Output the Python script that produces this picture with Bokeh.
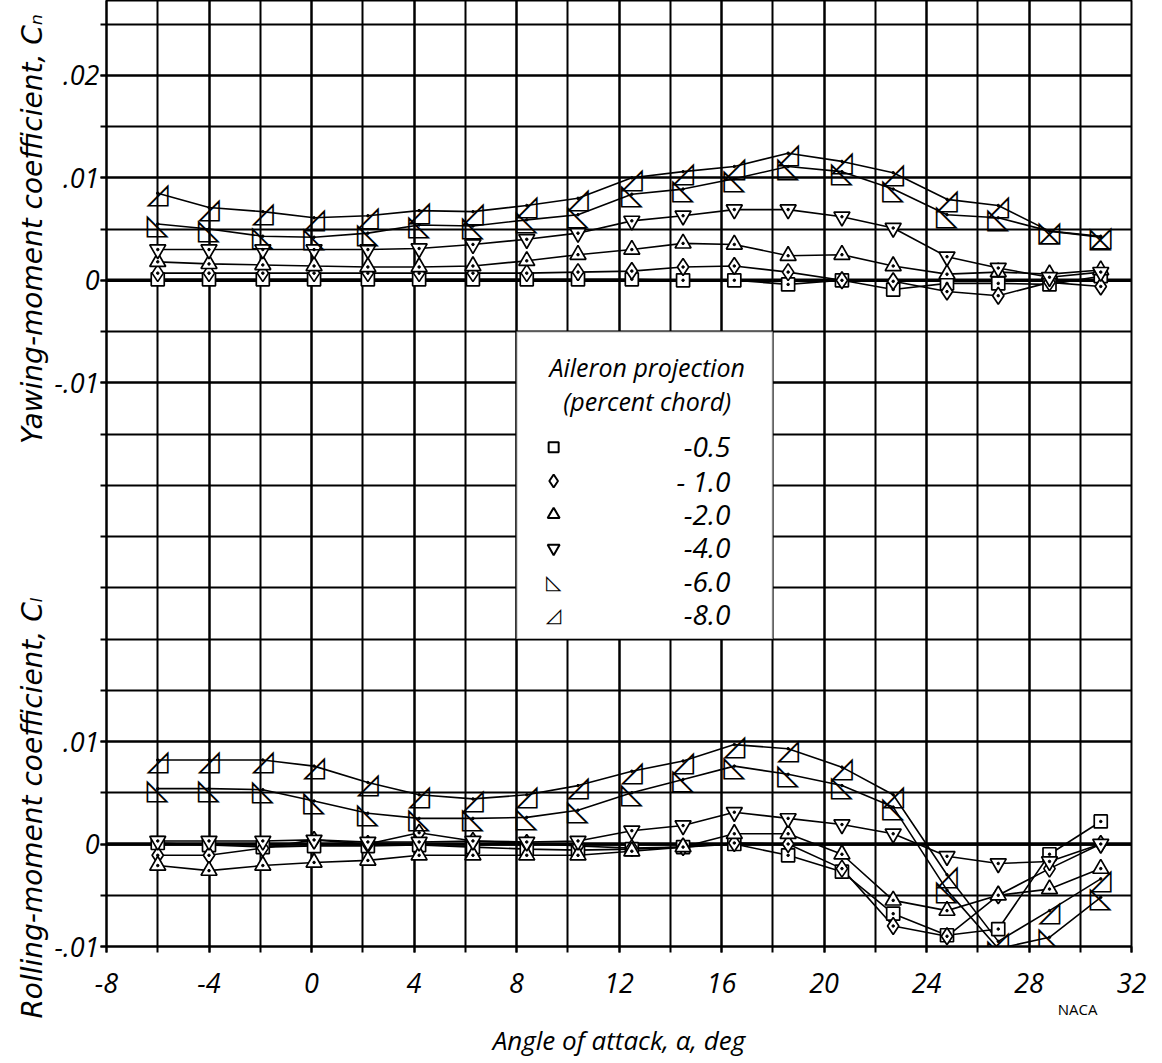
import numpy as np
from bokeh.plotting import figure
from bokeh.models import Range1d, FixedTicker, Span, Label, BoxAnnotation, LinearAxis
from bokeh.core.properties import value
from bokeh.embed import file_html
from bokeh.resources import INLINE

# ---------------- data ----------------
alpha = [-6.0, -4.0, -1.9, 0.1, 2.2, 4.2, 6.3, 8.4, 10.4, 12.5, 14.5, 16.5,
         18.6, 20.7, 22.7, 24.8, 26.8, 28.8, 30.8]

# Yawing-moment coefficient Cn
cn_m05 = [0.0001, 0.0001, 0.0001, 0.0001, 0.0001, 0.0001, 0.0001, 0.0001, 0.0001, 0.0001,
          0.0000, 0.0000, -0.0004, 0.0000, -0.0009, -0.0003, -0.0003, -0.0004, 0.0004]
cn_m1 = [0.0007, 0.0007, 0.0007, 0.0007, 0.0007, 0.0007, 0.0007, 0.0007, 0.0008, 0.0009,
         0.0013, 0.0014, 0.0008, 0.0000, -0.0001, -0.0011, -0.0015, -0.0002, -0.0006]
cn_m2 = [0.0018, 0.0016, 0.0015, 0.0014, 0.0013, 0.0013, 0.0014, 0.0019, 0.0025, 0.0030,
         0.0036, 0.0035, 0.0024, 0.0025, 0.0014, 0.0006, 0.0008, 0.0006, 0.0010]
cn_m4 = [0.0030, 0.0030, 0.0030, 0.0030, 0.0030, 0.0031, 0.0035, 0.0040, 0.0046, 0.0058,
         0.0063, 0.0069, 0.0069, 0.0062, 0.0051, 0.0023, 0.0012, 0.0003, 0.0008]
cn_m6 = [0.0055, 0.0050, 0.0043, 0.0042, 0.0046, 0.0054, 0.0053, 0.0059, 0.0064, 0.0084,
         0.0089, 0.0099, 0.0111, 0.0106, 0.0089, 0.0064, 0.0061, 0.0048, 0.0042]
cn_m8 = [0.0085, 0.0071, 0.0067, 0.0061, 0.0063, 0.0068, 0.0067, 0.0073, 0.0080, 0.0100,
         0.0106, 0.0111, 0.0124, 0.0116, 0.0105, 0.0079, 0.0073, 0.0048, 0.0043]

# Rolling-moment coefficient Cl
cl_m05 = [0.0001, -0.0001, -0.0003, -0.0002, -0.0002, -0.0001, -0.0003, -0.0005, -0.0006, -0.0005,
          -0.0003, 0.0000, -0.0011, -0.0027, -0.0068, -0.0089, -0.0083, -0.0010, 0.0022]
cl_m1 = [-0.0011, -0.0011, -0.0004, 0.0004, 0.0000, 0.0011, 0.0003, 0.0001, -0.0002, -0.0004,
         -0.0003, 0.0001, 0.0000, -0.0024, -0.0080, -0.0090, -0.0050, -0.0024, 0.0000]
cl_m2 = [-0.0021, -0.0026, -0.0021, -0.0018, -0.0016, -0.0011, -0.0011, -0.0011, -0.0011, -0.0007,
         -0.0003, 0.0010, 0.0010, -0.0010, -0.0055, -0.0065, -0.0050, -0.0044, -0.0024]
cl_m4 = [0.0003, 0.0003, 0.0003, 0.0004, 0.0002, 0.0002, 0.0003, 0.0002, 0.0003, 0.0013,
         0.0018, 0.0031, 0.0025, 0.0019, 0.0010, -0.0012, -0.0019, -0.0017, 0.0000]
cl_m6 = [0.0054, 0.0054, 0.0053, 0.0042, 0.0030, 0.0025, 0.0025, 0.0026, 0.0033, 0.0050,
         0.0063, 0.0076, 0.0068, 0.0057, 0.0036, -0.0045, -0.0102, -0.0091, -0.0052]
cl_m8 = [0.0082, 0.0082, 0.0082, 0.0076, 0.0060, 0.0048, 0.0044, 0.0048, 0.0057, 0.0071,
         0.0081, 0.0097, 0.0093, 0.0075, 0.0048, -0.0030, -0.0095, -0.0065, -0.0034]

series_labels = ["-0.5", "- 1.0", "-2.0", "-4.0", "-6.0", "-8.0"]
legend_title = ["Aileron projection", "(percent chord)"]

x_ticks = list(range(-8, 33, 4))
x_tick_labels = ["-8", "-4", "0", "4", "8", "12", "16", "20", "24", "28", "32"]
x_minor = list(range(-8, 33, 2))
cn_ticks = [0.02, 0.01, 0.0, -0.01]
cn_tick_labels = [".02", ".01", "0", "-.01"]
cl_ticks = [0.01, 0.0, -0.01]
cl_tick_labels = [".01", "0", "-.01"]
y_titles = ["Yawing-moment coefficient, Cₙ", "Rolling-moment coefficient, Cₗ"]

# ---------------- layout constants ----------------
FONT = "Open Sans"
CL_OFFSET = 0.055          # lower panel zero sits 11 grid cells below upper zero
Y_BOTTOM = -0.065
Y_TOP = 0.0273
TITLE_POS = [0.005, -0.0515]   # where the two rotated titles are centred (upper-axis units)

p = figure(width=1160, height=1060, output_backend="svg", toolbar_location=None,
           x_range=Range1d(-8, 32), y_range=Range1d(Y_BOTTOM, Y_TOP),
           min_border_left=106, min_border_right=29, min_border_top=0,
           min_border_bottom=112)
p.extra_y_ranges = {"cl": Range1d(Y_BOTTOM + CL_OFFSET, Y_TOP + CL_OFFSET)}
p.outline_line_color = "black"
p.outline_line_width = 2
p.background_fill_color = "white"
p.border_fill_color = "white"

# x axis (tick labels)
xax = p.below[0]
xax.ticker = FixedTicker(ticks=x_ticks, minor_ticks=x_minor)
xax.major_label_overrides = {t: l for t, l in zip(x_ticks, x_tick_labels)}
xax.major_label_text_font = FONT
xax.major_label_text_font_style = "italic"
xax.major_label_text_font_size = "27px"
xax.major_label_standoff = 20

# y axis
y_major = cn_ticks + [round(t - CL_OFFSET, 4) for t in cl_ticks]
y_minor = [round(v, 4) for v in np.arange(Y_BOTTOM, 0.02501, 0.005)]
yax = p.left[0]
yax.ticker = FixedTicker(ticks=y_major, minor_ticks=y_minor)
overrides = {t: l for t, l in zip(cn_ticks, cn_tick_labels)}
overrides.update({round(t - CL_OFFSET, 4): l for t, l in zip(cl_ticks, cl_tick_labels)})
yax.major_label_overrides = overrides
yax.major_label_text_font = FONT
yax.major_label_text_font_style = "italic"
yax.major_label_text_font_size = "27px"
yax.major_label_standoff = 1

for ax in (xax, yax):
    ax.axis_line_color = "black"
    ax.axis_line_width = 2
    ax.major_tick_line_color = "black"
    ax.minor_tick_line_color = "black"
    ax.major_tick_line_width = 2
    ax.minor_tick_line_width = 2
    ax.major_tick_out = 6
    ax.minor_tick_out = 6
    ax.major_tick_in = 0
    ax.minor_tick_in = 0
    ax.major_label_text_color = "black"

# bare outer left axis: carries the two rotated axis titles
title_axis = LinearAxis(ticker=FixedTicker(ticks=TITLE_POS, minor_ticks=[]),
                        major_label_overrides={t: s for t, s in zip(TITLE_POS, y_titles)},
                        major_label_orientation="parallel",
                        axis_line_color=None, major_tick_line_color=None,
                        minor_tick_line_color=None, major_tick_out=0, minor_tick_out=0,
                        major_tick_in=0, minor_tick_in=0,
                        major_label_standoff=2, major_label_text_font="DejaVu Sans",
                        major_label_text_font_style="italic",
                        major_label_text_font_size="28px", major_label_text_color="black")
p.add_layout(title_axis, "left")

# second (bare) axis below: carries the NACA mark and the axis title
naca_axis = LinearAxis(ticker=FixedTicker(ticks=[29.9], minor_ticks=[]),
                       major_label_overrides={29.9: "NACA"},
                       axis_line_color=None, major_tick_line_color=None,
                       minor_tick_line_color=None, major_tick_out=0, minor_tick_out=0,
                       major_label_standoff=3, major_label_text_font=FONT,
                       major_label_text_font_size="15px",
                       major_label_text_color="black",
                       axis_label="Angle of attack, α, deg", axis_label_text_font=FONT,
                       axis_label_text_font_style="italic", axis_label_text_font_size="26px",
                       axis_label_text_color="black", axis_label_standoff=0)
p.add_layout(naca_axis, "below")

for g in (p.xgrid, p.ygrid):
    g.grid_line_color = "black"
    g.grid_line_width = 2
    g.grid_line_alpha = 1
    g.minor_grid_line_color = "black"
    g.minor_grid_line_width = 2

# heavy zero lines
p.add_layout(Span(location=0.0, dimension="width", line_color="black", line_width=3.5, level="underlay"))
p.add_layout(Span(location=0.0, dimension="width", line_color="black", line_width=3.5,
                  level="underlay", y_range_name="cl"))

# legend box (covers grid)
p.add_layout(BoxAnnotation(left=8, right=18, top=-0.005, bottom=-0.035, fill_color="white",
                           fill_alpha=1, line_color="black", line_width=2, level="underlay"))

# ---------------- data glyphs ----------------
cn_series = [cn_m05, cn_m1, cn_m2, cn_m4, cn_m6, cn_m8]
cl_series = [cl_m05, cl_m1, cl_m2, cl_m4, cl_m6, cl_m8]
markers = ["square", "diamond", "triangle", "inverted_triangle", "◺", "◿"]
sizes = [13, 17, 16, 16, 0, 0]

def draw(series, rng):
    kw = {} if rng is None else {"y_range_name": rng}
    for ys in series:
        p.line(alpha, ys, line_color="black", line_width=1.6, **kw)
    for ys, mk, sz in zip(series, markers, sizes):
        if sz:
            p.scatter(alpha, ys, marker=mk, size=sz, fill_color="white",
                      line_color="black", line_width=1.7, **kw)
        else:
            p.text(alpha, ys, text=[mk] * len(alpha), text_font=value("DejaVu Sans"),
                   text_font_style="bold", text_font_size="29px", text_align="center",
                   text_baseline="middle", text_color="black", **kw)
        p.scatter(alpha, ys, marker="circle", size=2.5, fill_color="black",
                  line_color="black", **kw)

draw(cn_series, None)
draw(cl_series, "cl")

# ---------------- legend contents ----------------
leg_x_marker = 9.45
leg_x_text = 16.35
leg_y0 = -0.0163
leg_dy = -0.00328
for i, (lab, mk, sz) in enumerate(zip(series_labels, markers, sizes)):
    yy = leg_y0 + i * leg_dy
    if sz:
        p.scatter([leg_x_marker], [yy], marker=mk, size=max(sz - 4, 10), fill_color="white",
                  line_color="black", line_width=2)
    else:
        p.text([leg_x_marker], [yy], text=[mk], text_font=value("DejaVu Sans"),
               text_font_style="bold", text_font_size="20px", text_align="center",
               text_baseline="middle", text_color="black")
    p.add_layout(Label(x=leg_x_text, y=yy, text=lab, text_font=FONT, text_font_style="italic",
                       text_font_size="28px", text_align="right", text_baseline="middle",
                       text_color="black"))

for j, t in enumerate(legend_title):
    p.add_layout(Label(x=13.1, y=-0.0085 - j * 0.0033, text=t, text_font=FONT,
                       text_font_style="italic", text_font_size="25px", text_align="center",
                       text_baseline="middle", text_color="black"))

open("out.html", "w").write(file_html(p, INLINE))
